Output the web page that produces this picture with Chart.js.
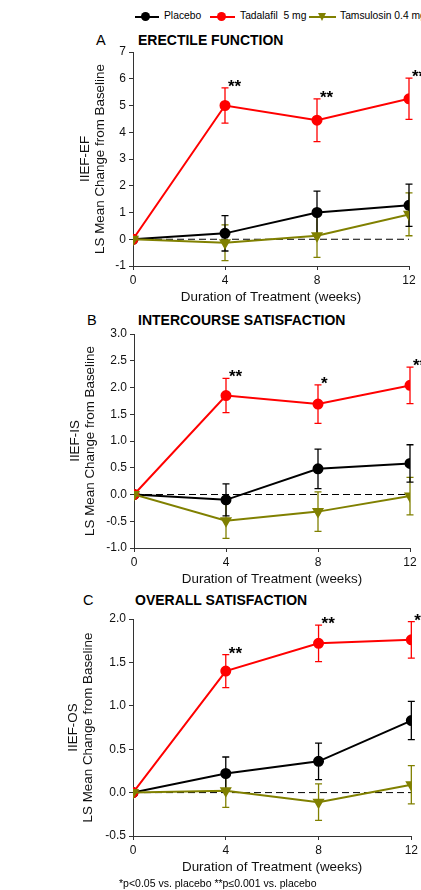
<!DOCTYPE html>
<html>
<head>
<meta charset="utf-8">
<script src="https://cdn.jsdelivr.net/npm/chart.js@4.4.1/dist/chart.umd.min.js"></script>
<style>
  body { margin: 0; width: 421px; height: 890px; background: #fff; position: relative; overflow: hidden;
         font-family: "Liberation Sans", Arial, sans-serif; color: #000; }
  canvas { position: absolute; left: 0; }
  .t { position: absolute; white-space: pre; line-height: 1; }
  .letter { font-size: 14.5px; }
  .ptitle { font-size: 14px; font-weight: bold; }
  .leg { font-size: 10.3px; top: 11px; }
  .ln { position: absolute; height: 2px; top: 16px; }
  .dot { position: absolute; width: 9px; height: 9px; border-radius: 50%; top: 12px; }
  .tri { position: absolute; width: 0; height: 0; top: 13px; border-left: 4.5px solid transparent;
         border-right: 4.5px solid transparent; border-top: 8px solid #808000; }
  .foot { font-size: 10.5px; left: 119px; top: 878px; }
</style>
</head>
<body>

<!-- legend -->
<div class="ln" style="left:135px;width:24px;background:#000"></div>
<div class="dot" style="left:141px;background:#000"></div>
<div class="t leg" style="left:164px">Placebo</div>
<div class="ln" style="left:210px;width:25px;background:#ff0000"></div>
<div class="dot" style="left:217px;background:#ff0000"></div>
<div class="t leg" style="left:240px">Tadalafil  5 mg</div>
<div class="ln" style="left:309px;width:27px;background:#808000"></div>
<div class="tri" style="left:318px"></div>
<div class="t leg" style="left:340px">Tamsulosin 0.4 mg</div>

<!-- panel headings -->
<div class="t letter" style="left:96px;top:33px">A</div>
<div class="t ptitle" style="left:138px;top:33px">ERECTILE FUNCTION</div>
<div class="t letter" style="left:87px;top:313px">B</div>
<div class="t ptitle" style="left:138px;top:313px">INTERCOURSE SATISFACTION</div>
<div class="t letter" style="left:83px;top:593px">C</div>
<div class="t ptitle" style="left:135px;top:593px">OVERALL SATISFACTION</div>

<canvas id="chartA"></canvas>
<canvas id="chartB"></canvas>
<canvas id="chartC"></canvas>

<div class="t foot">*p&lt;0.05 vs. placebo **p≤0.001 vs. placebo</div>

<script>
// weeks of treatment
const weeks = [0, 4, 8, 12];

// A: erectile function (IIEF-EF)
const placeboEF = [0, 0.22, 1.0, 1.27];
const placeboEFErr = [0, 0.66, 0.8, 0.79];
const tadalafilEF = [0, 5.0, 4.45, 5.25];
const tadalafilEFErr = [0, 0.66, 0.8, 0.77];
const tamsulosinEF = [0, -0.13, 0.13, 0.93];
const tamsulosinEFErr = [0, 0.67, 0.81, 0.8];
const sigEF = ['', '**', '**', '**'];
const ticksEF = [-1, 0, 1, 2, 3, 4, 5, 6, 7];

// B: intercourse satisfaction (IIEF-IS)
const placeboIS = [0, -0.1, 0.48, 0.58];
const placeboISErr = [0, 0.3, 0.37, 0.35];
const tadalafilIS = [0, 1.85, 1.69, 2.04];
const tadalafilISErr = [0, 0.32, 0.36, 0.34];
const tamsulosinIS = [0, -0.49, -0.32, -0.03];
const tamsulosinISErr = [0, 0.33, 0.37, 0.35];
const sigIS = ['', '**', '*', '**'];
const ticksIS = [-1.0, -0.5, 0.0, 0.5, 1.0, 1.5, 2.0, 2.5, 3.0];

// C: overall satisfaction (IIEF-OS)
const placeboOS = [0, 0.22, 0.36, 0.83];
const placeboOSErr = [0, 0.19, 0.21, 0.22];
const tadalafilOS = [0, 1.40, 1.72, 1.76];
const tadalafilOSErr = [0, 0.19, 0.21, 0.21];
const tamsulosinOS = [0, 0.02, -0.11, 0.09];
const tamsulosinOSErr = [0, 0.19, 0.21, 0.22];
const sigOS = ['', '**', '**', '*'];
const ticksOS = [-0.5, 0.0, 0.5, 1.0, 1.5, 2.0];

const FONT = '"Liberation Sans", Arial, sans-serif';
const AXIS = '#333';

// error bars, zero reference line and significance stars
const extrasPlugin = {
  id: 'extras',
  beforeDatasetsDraw(chart) {
    const { ctx, scales: { x, y } } = chart;
    // dashed zero line
    ctx.save();
    ctx.strokeStyle = '#000';
    ctx.lineWidth = 1;
    ctx.setLineDash([7, 4]);
    ctx.beginPath();
    ctx.moveTo(x.getPixelForValue(weeks[0]), y.getPixelForValue(0));
    ctx.lineTo(x.getPixelForValue(weeks[weeks.length - 1]), y.getPixelForValue(0));
    ctx.stroke();
    ctx.setLineDash([]);
    // error bars
    chart.data.datasets.forEach(ds => {
      ctx.strokeStyle = ds.borderColor;
      ctx.lineWidth = 1.3;
      ds.data.forEach((p, i) => {
        const e = ds.errors[i];
        if (!e) return;
        const px = x.getPixelForValue(p.x);
        const top = y.getPixelForValue(p.y + e);
        const bot = y.getPixelForValue(p.y - e);
        ctx.beginPath();
        ctx.moveTo(px, top); ctx.lineTo(px, bot);
        ctx.moveTo(px - 3.5, top); ctx.lineTo(px + 3.5, top);
        ctx.moveTo(px - 3.5, bot); ctx.lineTo(px + 3.5, bot);
        ctx.stroke();
      });
    });
    ctx.restore();
  },
  afterDatasetsDraw(chart) {
    const { ctx, scales: { x, y } } = chart;
    const ds = chart.data.datasets.find(d => d.sig);
    if (!ds) return;
    ctx.save();
    ctx.fillStyle = '#000';
    ctx.font = 'bold 17px ' + FONT;
    ctx.textAlign = 'left';
    ctx.textBaseline = 'alphabetic';
    ds.data.forEach((p, i) => {
      if (!ds.sig[i]) return;
      const px = x.getPixelForValue(p.x);
      const top = y.getPixelForValue(p.y + ds.errors[i]);
      ctx.fillText(ds.sig[i], px + 3, top + 4);
    });
    ctx.restore();
  }
};

function points(vals) {
  return weeks.map((w, i) => ({ x: w, y: vals[i] }));
}

function makePanel(id, geo, cfg) {
  const canvas = document.getElementById(id);
  canvas.width = 421;
  canvas.height = geo.height;
  canvas.style.top = geo.top + 'px';
  canvas.style.width = '421px';
  canvas.style.height = geo.height + 'px';

  const yTickVals = cfg.ticks;
  new Chart(canvas, {
    type: 'line',
    data: {
      datasets: [
        {
          label: 'Tamsulosin 0.4 mg', data: points(cfg.tam), errors: cfg.tamErr,
          borderColor: '#808000', backgroundColor: '#808000', borderWidth: 2,
          pointStyle: 'triangle', pointRotation: 180, pointRadius: 5, order: 1
        },
        {
          label: 'Tadalafil 5 mg', data: points(cfg.tad), errors: cfg.tadErr, sig: cfg.sig,
          borderColor: '#ff0000', backgroundColor: '#ff0000', borderWidth: 2,
          pointStyle: 'circle', pointRadius: 4.5, order: 2
        },
        {
          label: 'Placebo', data: points(cfg.pla), errors: cfg.plaErr,
          borderColor: '#000000', backgroundColor: '#000000', borderWidth: 2,
          pointStyle: 'circle', pointRadius: 4.5, order: 3
        }
      ]
    },
    options: {
      responsive: false,
      animation: false,
      devicePixelRatio: 1,
      layout: { padding: { top: geo.areaTop - geo.top, right: 421 - geo.areaRight, bottom: 0, left: 0 } },
      plugins: { legend: { display: false }, tooltip: { enabled: false } },
      scales: {
        x: {
          type: 'linear', min: weeks[0], max: weeks[weeks.length - 1],
          afterBuildTicks: s => { s.ticks = weeks.map(v => ({ value: v })); },
          afterFit: s => { s.height = geo.top + geo.height - geo.areaBottom; },
          grid: { drawOnChartArea: false, drawTicks: true, tickLength: 4, color: AXIS },
          border: { display: true, color: AXIS, width: 1 },
          ticks: { color: '#111', font: { family: FONT, size: 12 }, padding: 3, maxRotation: 0 },
          title: {
            display: true, text: 'Duration of Treatment (weeks)', color: '#111',
            font: { family: FONT, size: 13.4 }, padding: { top: 0, bottom: geo.xTitlePad }
          }
        },
        y: {
          type: 'linear', min: yTickVals[0], max: yTickVals[yTickVals.length - 1],
          afterBuildTicks: s => { s.ticks = yTickVals.map(v => ({ value: v })); },
          afterFit: s => { s.width = geo.areaLeft; },
          grid: { drawOnChartArea: false, drawTicks: true, tickLength: 4, color: AXIS },
          border: { display: true, color: AXIS, width: 1 },
          ticks: {
            color: '#111', font: { family: FONT, size: 12 }, padding: 3,
            callback: v => cfg.decimals ? v.toFixed(cfg.decimals) : String(v)
          },
          title: {
            display: true, text: [cfg.label, 'LS Mean Change from Baseline'], color: '#111',
            font: { family: FONT, size: 13.4, lineHeight: 1.15 }, padding: { top: geo.yTitleX - 7.7, bottom: 0 }
          }
        }
      }
    },
    plugins: [extrasPlugin]
  });
}

makePanel('chartA',
  { top: 30, height: 282, areaTop: 52, areaBottom: 266, areaLeft: 133, areaRight: 409, xTitlePad: 7, yTitleX: 85 },
  { pla: placeboEF, plaErr: placeboEFErr, tad: tadalafilEF, tadErr: tadalafilEFErr,
    tam: tamsulosinEF, tamErr: tamsulosinEFErr, sig: sigEF, ticks: ticksEF, decimals: 0, label: 'IIEF-EF' });

makePanel('chartB',
  { top: 312, height: 282, areaTop: 334, areaBottom: 548, areaLeft: 134, areaRight: 410, xTitlePad: 7, yTitleX: 75 },
  { pla: placeboIS, plaErr: placeboISErr, tad: tadalafilIS, tadErr: tadalafilISErr,
    tam: tamsulosinIS, tamErr: tamsulosinISErr, sig: sigIS, ticks: ticksIS, decimals: 1, label: 'IIEF-IS' });

makePanel('chartC',
  { top: 592, height: 288, areaTop: 619, areaBottom: 836, areaLeft: 133, areaRight: 413, xTitlePad: 5, yTitleX: 73 },
  { pla: placeboOS, plaErr: placeboOSErr, tad: tadalafilOS, tadErr: tadalafilOSErr,
    tam: tamsulosinOS, tamErr: tamsulosinOSErr, sig: sigOS, ticks: ticksOS, decimals: 1, label: 'IIEF-OS' });
</script>
</body>
</html>
